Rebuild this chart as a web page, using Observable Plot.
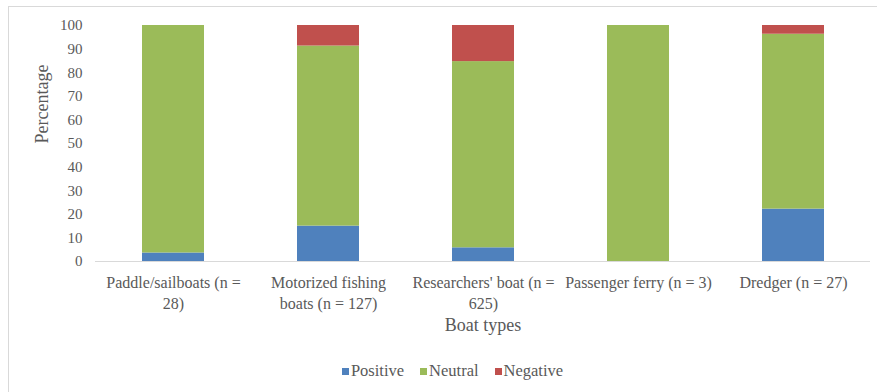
<!DOCTYPE html>
<html><head><meta charset="utf-8">
<script src="https://cdn.jsdelivr.net/npm/d3@7"></script>
<script src="https://cdn.jsdelivr.net/npm/@observablehq/plot@0.6"></script>
<style>
html,body{margin:0;padding:0;background:#fff;overflow:hidden;}
#wrap{position:relative;width:877px;height:392px;font-family:'Liberation Serif',serif;overflow:hidden;}
#frame{position:absolute;left:8px;top:6px;width:900px;height:420px;border:1px solid #d9d9d9;box-sizing:border-box;}
#chart{position:absolute;left:0;top:0;}
#legend{position:absolute;left:14px;top:361px;width:877px;display:flex;justify-content:center;}
#legend div, #legend span{font-family:'Liberation Serif',serif !important;font-size:16.5px !important;color:#595959 !important;}
#legend > div{margin:0 !important;min-height:0 !important;}
#legend span{margin-right:16px !important;}
#legend span:last-child{margin-right:0 !important;}
#legend span svg{margin-right:2px !important;}
</style></head>
<body><div id="wrap"><div id="frame"></div><div id="chart"></div><div id="legend"></div></div>
<script>
const categories = ["Paddle/sailboats (n = 28)", "Motorized fishing boats (n = 127)", "Researchers' boat (n = 625)", "Passenger ferry (n = 3)", "Dredger (n = 27)"];
const tickLabels = ["Paddle/sailboats (n =\n28)", "Motorized fishing\nboats (n = 127)", "Researchers' boat (n =\n625)", "Passenger ferry (n = 3)", "Dredger (n = 27)"];
const sentiments = ["Positive", "Neutral", "Negative"];
const positive = [3.6, 15.0, 5.8, 0, 22.2];
const neutral = [96.4, 76.3, 78.9, 100, 74.1];
const negative = [0, 8.7, 15.3, 0, 3.7];
const colors = ["#4f81bd", "#9bbb59", "#c0504d"];
const yTicks = [0, 10, 20, 30, 40, 50, 60, 70, 80, 90, 100];
const yTitle = "Percentage";
const xTitle = "Boat types";

const series = [positive, neutral, negative];
const rows = [];
categories.forEach((c, i) => {
  sentiments.forEach((s, j) => rows.push({category: c, sentiment: s, value: series[j][i]}));
});

const chart = Plot.plot({
  width: 877,
  height: 350,
  marginTop: 25,
  marginBottom: 89,
  marginLeft: 95,
  marginRight: 7,
  style: "font-family: 'Liberation Serif', serif; font-size: 16px; color: #595959; background: transparent;",
  x: {domain: categories, paddingInner: 0.6, paddingOuter: 0.3},
  y: {domain: [0, 100]},
  color: {domain: sentiments, range: colors},
  marks: [
    Plot.barY(rows, {x: "category", y: "value", fill: "sentiment"}),
    Plot.ruleY([0], {stroke: "#d9d9d9", strokeWidth: 1}),
    Plot.axisY({ticks: yTicks, tickSize: 0, tickPadding: 13, fontSize: 15, label: null}),
    Plot.axisX({tickSize: 0, tickPadding: 12, fontSize: 16, lineHeight: 1.3, label: null,
      tickFormat: d => tickLabels[categories.indexOf(d)]}),
    Plot.text([yTitle], {text: d => d, frameAnchor: "left", dx: -53, rotate: -90, lineAnchor: "middle", fontSize: 18, fill: "#595959"}),
    Plot.text([xTitle], {text: d => d, frameAnchor: "bottom", dy: 64, lineAnchor: "middle", fontSize: 18, fill: "#595959"})
  ]
});
document.getElementById("chart").appendChild(chart);

const legend = Plot.legend({
  color: {domain: sentiments, range: colors},
  swatchWidth: 7, swatchHeight: 7,
  style: "font-family: 'Liberation Serif', serif; font-size: 16.5px; color: #595959;"
});
document.getElementById("legend").appendChild(legend);
</script>
</body></html>
